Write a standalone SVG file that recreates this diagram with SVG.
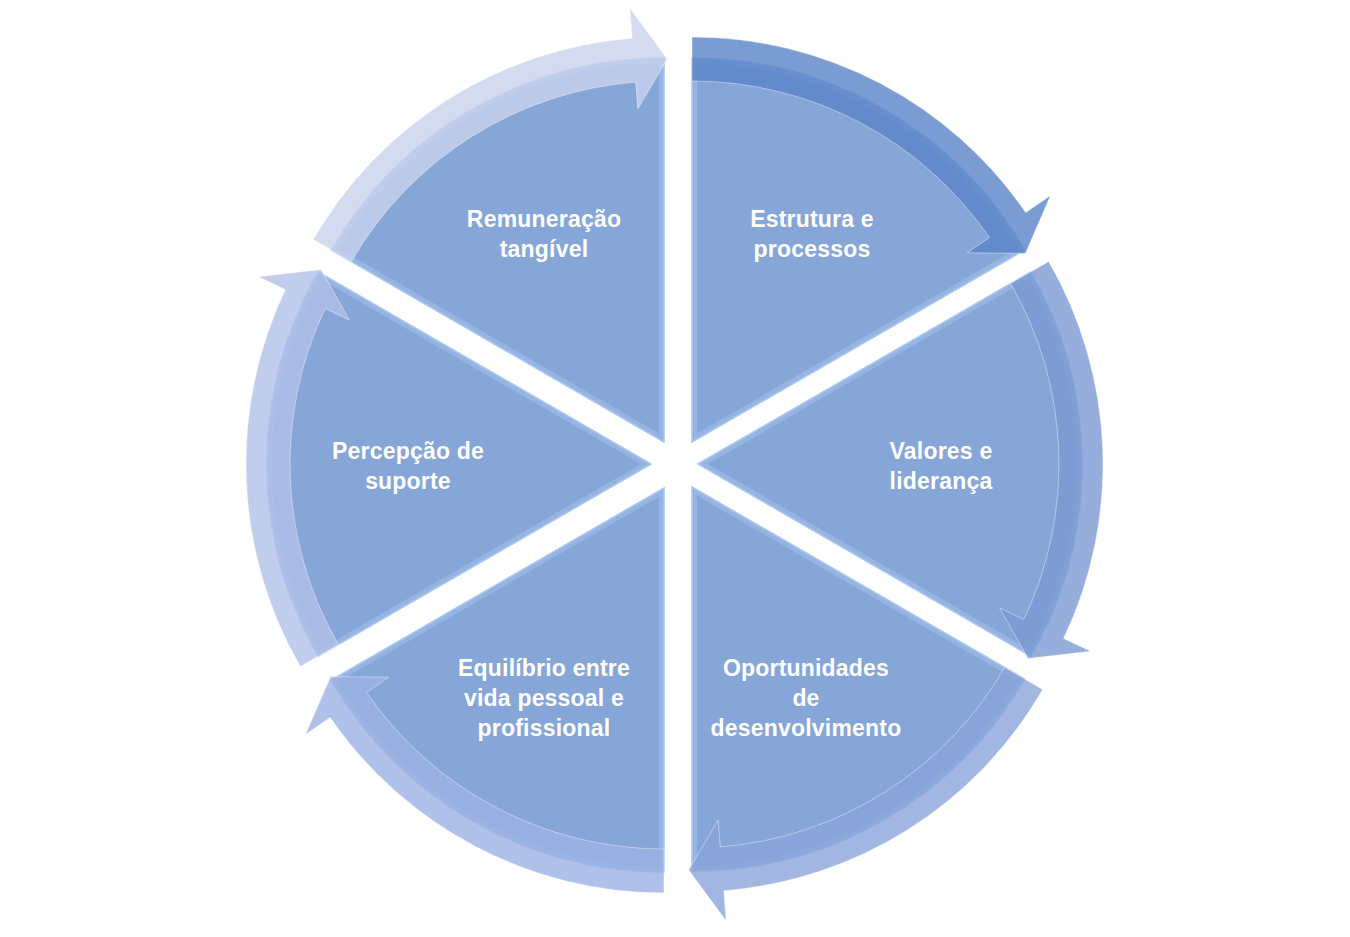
<svg xmlns="http://www.w3.org/2000/svg" width="1350" height="937" viewBox="0 0 1350 937">
  <style>
    .sec { fill: #86A6D8; stroke: #A4C4F0; stroke-width: 1.5; }
    .rim { fill: none; stroke: #B8D4FA; stroke-width: 10; stroke-opacity: 0.3; }
    .arr { stroke: #FFFFFF; stroke-opacity: 0.4; stroke-width: 1; fill-opacity: 0.8; }
    .lbl { font-family: "Liberation Sans", Arial, sans-serif; font-weight: bold; font-size: 23px; letter-spacing: 0.2px; fill: #FFFFFF; text-anchor: middle; }
  </style>
  <defs>
    <clipPath id="c1"><path d="M692,442 L692,58 A384,384 0 0 1 1024.6,250 Z"/></clipPath>
    <clipPath id="c2"><path d="M698,464 L1030.6,272 A384,384 0 0 1 1030.6,656 Z"/></clipPath>
    <clipPath id="c3"><path d="M692,487 L1024.6,679 A384,384 0 0 1 692,871 Z"/></clipPath>
    <clipPath id="c4"><path d="M664,488 L664,872 A384,384 0 0 1 331.4,680 Z"/></clipPath>
    <clipPath id="c5"><path d="M651,464 L318.4,656 A384,384 0 0 1 318.4,272 Z"/></clipPath>
    <clipPath id="c6"><path d="M664,442 L331.4,250 A384,384 0 0 1 664,58 Z"/></clipPath>
  </defs>

  <g id="node-estrutura">
    <path class="sec" d="M692,442 L692,58 A384,384 0 0 1 1024.6,250 Z"/>
    <path class="rim" clip-path="url(#c1)" d="M692,442 L692,58 A384,384 0 0 1 1024.6,250 Z"/>
    <text class="lbl" x="812" y="227">Estrutura e</text>
    <text class="lbl" x="812" y="257">processos</text>
  </g>
  <g id="node-valores">
    <path class="sec" d="M698,464 L1030.6,272 A384,384 0 0 1 1030.6,656 Z"/>
    <path class="rim" clip-path="url(#c2)" d="M698,464 L1030.6,272 A384,384 0 0 1 1030.6,656 Z"/>
    <text class="lbl" x="941" y="459">Valores e</text>
    <text class="lbl" x="941" y="489">liderança</text>
  </g>
  <g id="node-oportunidades">
    <path class="sec" d="M692,487 L1024.6,679 A384,384 0 0 1 692,871 Z"/>
    <path class="rim" clip-path="url(#c3)" d="M692,487 L1024.6,679 A384,384 0 0 1 692,871 Z"/>
    <text class="lbl" x="806" y="676">Oportunidades</text>
    <text class="lbl" x="806" y="706">de</text>
    <text class="lbl" x="806" y="736">desenvolvimento</text>
  </g>
  <g id="node-equilibrio">
    <path class="sec" d="M664,488 L664,872 A384,384 0 0 1 331.4,680 Z"/>
    <path class="rim" clip-path="url(#c4)" d="M664,488 L664,872 A384,384 0 0 1 331.4,680 Z"/>
    <text class="lbl" x="544" y="676">Equilíbrio entre</text>
    <text class="lbl" x="544" y="706">vida pessoal e</text>
    <text class="lbl" x="544" y="736">profissional</text>
  </g>
  <g id="node-percepcao">
    <path class="sec" d="M651,464 L318.4,656 A384,384 0 0 1 318.4,272 Z"/>
    <path class="rim" clip-path="url(#c5)" d="M651,464 L318.4,656 A384,384 0 0 1 318.4,272 Z"/>
    <text class="lbl" x="408" y="459">Percepção de</text>
    <text class="lbl" x="408" y="489">suporte</text>
  </g>
  <g id="node-remuneracao">
    <path class="sec" d="M664,442 L331.4,250 A384,384 0 0 1 664,58 Z"/>
    <path class="rim" clip-path="url(#c6)" d="M664,442 L331.4,250 A384,384 0 0 1 664,58 Z"/>
    <text class="lbl" x="544" y="227">Remuneração</text>
    <text class="lbl" x="544" y="257">tangível</text>
  </g>

  <g id="connectors">
    <path class="arr" fill="#5A83C7" d="M692,37 A405,405 0 0 1 1025.8,212.6 L1050.5,195.6 L1025.4,253.4 L967.3,252.8 L989.5,237.5 A361,361 0 0 0 692,81 Z"/>
    <path class="arr" fill="#7B9AD3" d="M1048.7,261.5 A405,405 0 0 1 1063.6,638.4 L1090.6,651.3 L1028,658.4 L999.5,607.8 L1023.8,619.4 A361,361 0 0 0 1010.6,283.5 Z"/>
    <path class="arr" fill="#8AA4DA" d="M1042.7,689.5 A405,405 0 0 1 723.8,890.7 L726.1,920.7 L688.7,870 L718.2,820 L720.3,846.9 A361,361 0 0 0 1004.6,667.5 Z"/>
    <path class="arr" fill="#9CB1E3" d="M664,893 A405,405 0 0 1 330.2,717.4 L305.5,734.4 L330.6,676.6 L388.7,677.2 L366.5,692.5 A361,361 0 0 0 664,849 Z"/>
    <path class="arr" fill="#B1C0E8" d="M300.3,666.5 A405,405 0 0 1 285.4,289.6 L258.4,276.7 L321,269.6 L349.5,320.2 L325.2,308.6 A361,361 0 0 0 338.4,644.5 Z"/>
    <path class="arr" fill="#C9D2EE" d="M313.3,239.5 A405,405 0 0 1 632.2,38.3 L629.9,8.3 L667.3,59 L637.8,109 L635.7,82.1 A361,361 0 0 0 351.4,261.5 Z"/>
  </g>
</svg>
